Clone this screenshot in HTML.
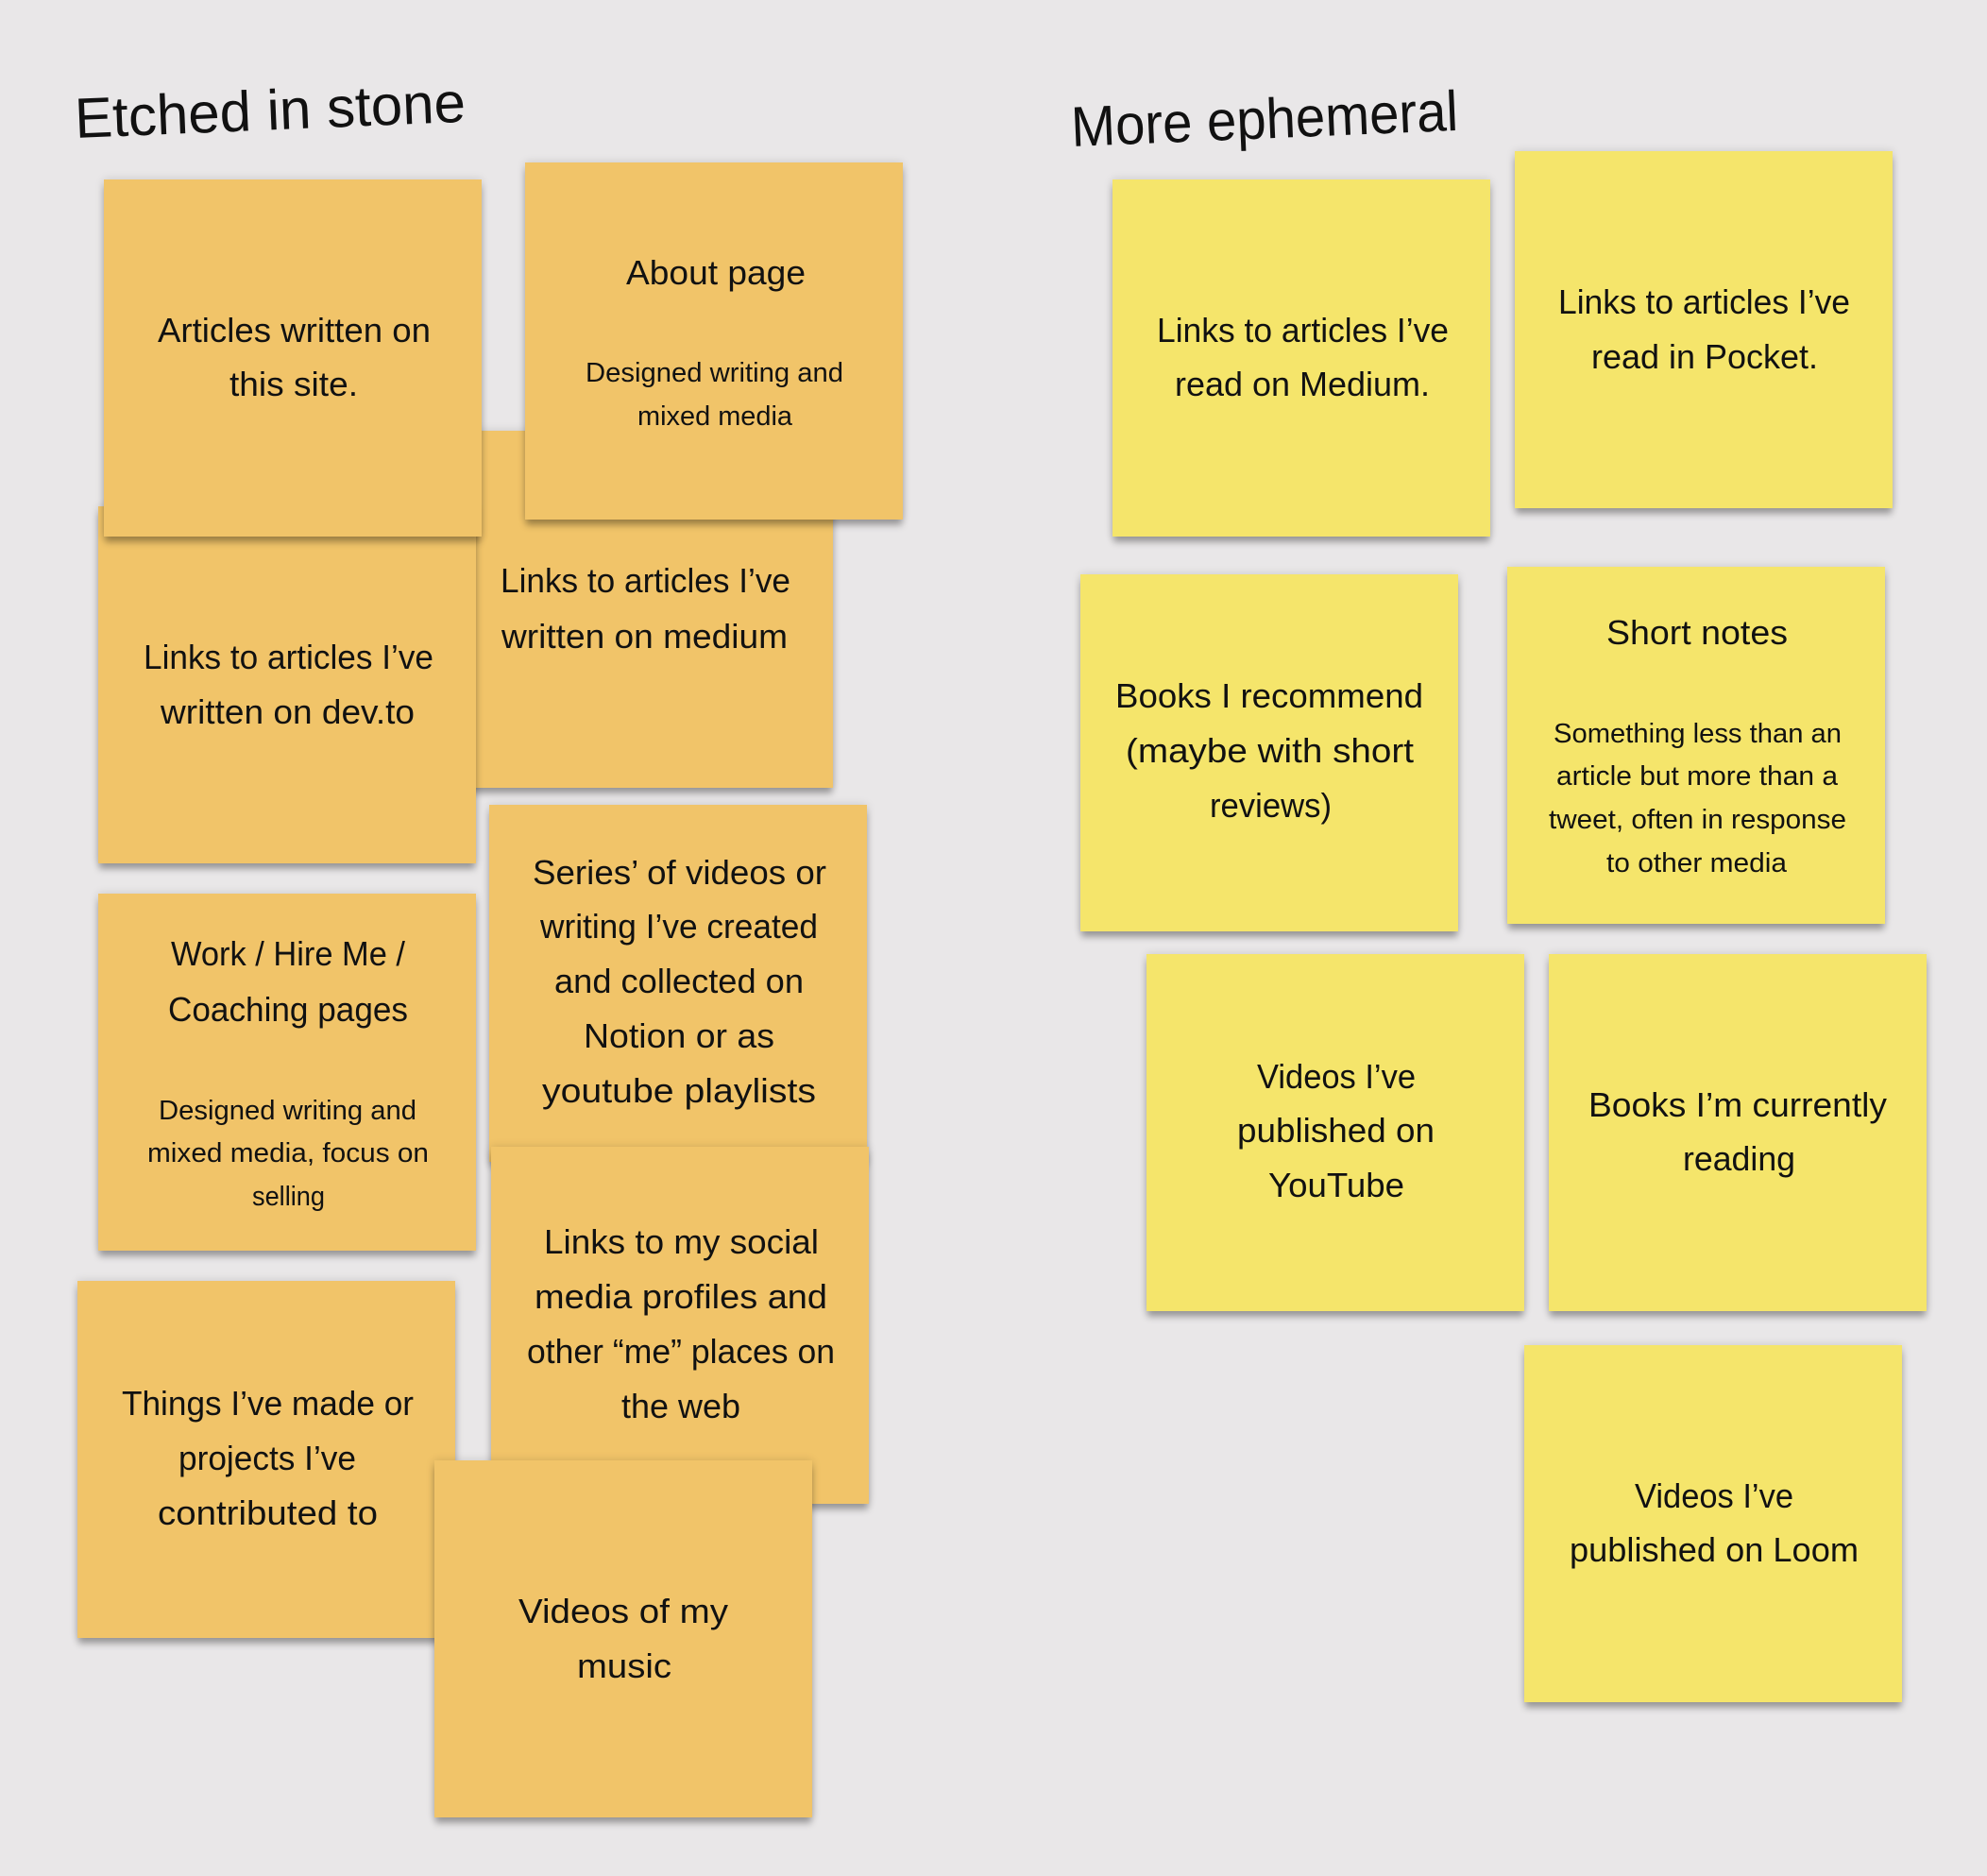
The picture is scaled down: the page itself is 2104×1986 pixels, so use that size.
<!DOCTYPE html>
<html lang="en">
<head>
<meta charset="utf-8">
<title>Etched in stone / More ephemeral</title>
<style>
  html,body{margin:0;padding:0;background:#e9e7e8;}
  body{position:relative;width:2104px;height:1986px;overflow:hidden;}
  .s{position:absolute;width:400px;height:378px;box-shadow:0 7px 7px -1px rgba(0,0,0,.3),0 0 9px rgba(0,0,0,.14);}
  .o{background:#f1c469;}
  .y{background:#f5e56b;}
  svg{position:absolute;left:0;top:0;}
  text{font-family:"Liberation Sans",sans-serif;fill:#111;font-size:36px;}
  text.m{font-size:29px;}
  text.t{font-size:60px;}
</style>
</head>
<body>
<div class="s o" style="left:482px;top:456px"></div>
<div class="s o" style="left:104px;top:536px"></div>
<div class="s o" style="left:110px;top:190px"></div>
<div class="s o" style="left:556px;top:172px"></div>
<div class="s o" style="left:104px;top:946px"></div>
<div class="s o" style="left:518px;top:852px"></div>
<div class="s o" style="left:520px;top:1214px"></div>
<div class="s o" style="left:82px;top:1356px"></div>
<div class="s o" style="left:460px;top:1546px"></div>

<div class="s y" style="left:1178px;top:190px"></div>
<div class="s y" style="left:1604px;top:160px"></div>
<div class="s y" style="left:1144px;top:608px"></div>
<div class="s y" style="left:1596px;top:600px"></div>
<div class="s y" style="left:1214px;top:1010px"></div>
<div class="s y" style="left:1640px;top:1010px"></div>
<div class="s y" style="left:1614px;top:1424px"></div>

<svg width="2104" height="1986" viewBox="0 0 2104 1986" xmlns="http://www.w3.org/2000/svg">
  <text class="t" x="80" y="146" textLength="414" lengthAdjust="spacingAndGlyphs" transform="rotate(-2.4 80 146)">Etched in stone</text>
  <text class="t" x="1135" y="155" textLength="410" lengthAdjust="spacingAndGlyphs" transform="rotate(-2.4 1135 155)">More ephemeral</text>

  <text x="167" y="362" textLength="289" lengthAdjust="spacingAndGlyphs">Articles written on</text>
  <text x="243" y="419" textLength="136" lengthAdjust="spacingAndGlyphs">this site.</text>

  <text x="663" y="301" textLength="190" lengthAdjust="spacingAndGlyphs">About page</text>
  <text class="m" x="620" y="404" textLength="273" lengthAdjust="spacingAndGlyphs">Designed writing and</text>
  <text class="m" x="675" y="450" textLength="164" lengthAdjust="spacingAndGlyphs">mixed media</text>

  <text x="530" y="627" textLength="307" lengthAdjust="spacingAndGlyphs">Links to articles I’ve</text>
  <text x="531" y="686" textLength="303" lengthAdjust="spacingAndGlyphs">written on medium</text>

  <text x="152" y="708" textLength="307" lengthAdjust="spacingAndGlyphs">Links to articles I’ve</text>
  <text x="170" y="766" textLength="269" lengthAdjust="spacingAndGlyphs">written on dev.to</text>

  <text x="181" y="1022" textLength="248" lengthAdjust="spacingAndGlyphs">Work / Hire Me /</text>
  <text x="178" y="1081" textLength="254" lengthAdjust="spacingAndGlyphs">Coaching pages</text>
  <text class="m" x="168" y="1185" textLength="273" lengthAdjust="spacingAndGlyphs">Designed writing and</text>
  <text class="m" x="156" y="1230" textLength="298" lengthAdjust="spacingAndGlyphs">mixed media, focus on</text>
  <text class="m" x="267" y="1276" textLength="77" lengthAdjust="spacingAndGlyphs">selling</text>

  <text x="564" y="936" textLength="311" lengthAdjust="spacingAndGlyphs">Series’ of videos or</text>
  <text x="572" y="993" textLength="294" lengthAdjust="spacingAndGlyphs">writing I’ve created</text>
  <text x="587" y="1051" textLength="264" lengthAdjust="spacingAndGlyphs">and collected on</text>
  <text x="618" y="1109" textLength="202" lengthAdjust="spacingAndGlyphs">Notion or as</text>
  <text x="574" y="1167" textLength="290" lengthAdjust="spacingAndGlyphs">youtube playlists</text>

  <text x="576" y="1327" textLength="291" lengthAdjust="spacingAndGlyphs">Links to my social</text>
  <text x="566" y="1385" textLength="310" lengthAdjust="spacingAndGlyphs">media profiles and</text>
  <text x="558" y="1443" textLength="326" lengthAdjust="spacingAndGlyphs">other “me” places on</text>
  <text x="658" y="1501" textLength="126" lengthAdjust="spacingAndGlyphs">the web</text>

  <text x="129" y="1498" textLength="309" lengthAdjust="spacingAndGlyphs">Things I’ve made or</text>
  <text x="189" y="1556" textLength="188" lengthAdjust="spacingAndGlyphs">projects I’ve</text>
  <text x="167" y="1614" textLength="233" lengthAdjust="spacingAndGlyphs">contributed to</text>

  <text x="549" y="1718" textLength="222" lengthAdjust="spacingAndGlyphs">Videos of my</text>
  <text x="611" y="1776" textLength="100" lengthAdjust="spacingAndGlyphs">music</text>

  <text x="1225" y="362" textLength="309" lengthAdjust="spacingAndGlyphs">Links to articles I’ve</text>
  <text x="1244" y="419" textLength="270" lengthAdjust="spacingAndGlyphs">read on Medium.</text>

  <text x="1650" y="332" textLength="309" lengthAdjust="spacingAndGlyphs">Links to articles I’ve</text>
  <text x="1685" y="390" textLength="240" lengthAdjust="spacingAndGlyphs">read in Pocket.</text>

  <text x="1181" y="749" textLength="326" lengthAdjust="spacingAndGlyphs">Books I recommend</text>
  <text x="1192" y="807" textLength="305" lengthAdjust="spacingAndGlyphs">(maybe with short</text>
  <text x="1281" y="865" textLength="129" lengthAdjust="spacingAndGlyphs">reviews)</text>

  <text x="1701" y="682" textLength="192" lengthAdjust="spacingAndGlyphs">Short notes</text>
  <text class="m" x="1645" y="786" textLength="305" lengthAdjust="spacingAndGlyphs">Something less than an</text>
  <text class="m" x="1648" y="831" textLength="298" lengthAdjust="spacingAndGlyphs">article but more than a</text>
  <text class="m" x="1640" y="877" textLength="315" lengthAdjust="spacingAndGlyphs">tweet, often in response</text>
  <text class="m" x="1701" y="923" textLength="191" lengthAdjust="spacingAndGlyphs">to other media</text>

  <text x="1331" y="1152" textLength="168" lengthAdjust="spacingAndGlyphs">Videos I’ve</text>
  <text x="1310" y="1209" textLength="209" lengthAdjust="spacingAndGlyphs">published on</text>
  <text x="1343" y="1267" textLength="144" lengthAdjust="spacingAndGlyphs">YouTube</text>

  <text x="1682" y="1182" textLength="316" lengthAdjust="spacingAndGlyphs">Books I’m currently</text>
  <text x="1782" y="1239" textLength="119" lengthAdjust="spacingAndGlyphs">reading</text>

  <text x="1731" y="1596" textLength="168" lengthAdjust="spacingAndGlyphs">Videos I’ve</text>
  <text x="1662" y="1653" textLength="306" lengthAdjust="spacingAndGlyphs">published on Loom</text>
</svg>
</body>
</html>
